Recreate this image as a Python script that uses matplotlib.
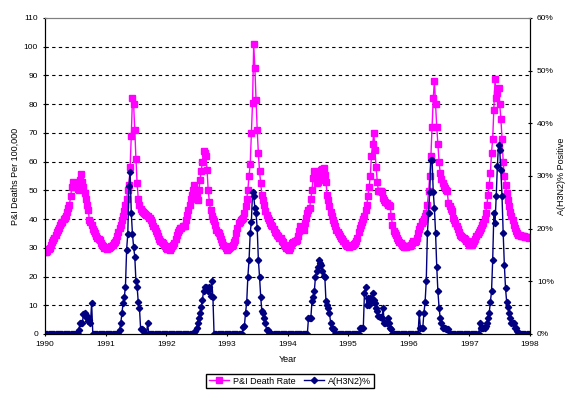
import matplotlib
matplotlib.use("Agg")
import matplotlib.pyplot as plt
import numpy as np

plt.rcParams['font.family'] = ['Liberation Sans', 'DejaVu Sans']

# weekly P&I deaths per 100,000, one list per year (52 weeks)
pi_1990 = [28.7, 28.5, 29, 29.5, 30, 31, 32, 32.8, 33.5, 34.5, 35.5, 36.3, 37, 38, 38.5, 39, 40, 40.5, 41, 42.5,
           44, 45, 48, 51, 53, 52, 51, 52, 50.5, 50, 53.5, 55.7, 53, 51, 49, 47, 45, 43.3, 39.8, 39,
           38, 36.5, 35.7, 35, 34, 33.5, 33, 32.8, 31.5, 31, 30.5, 30]
pi_1991 = [30, 29.5, 30, 29.8, 30.2, 30.5, 31, 31.5, 32, 32.8, 34, 35.5, 37, 38, 39.5, 41, 42.7, 45, 47, 50,
           52, 58, 69, 82, 80, 71, 61, 52.5, 47, 45, 43.5, 42.7, 42.5, 42, 41.8, 41.5, 41, 40.5, 40.2, 39.8,
           38.5, 37.5, 36.9, 36, 35, 34, 33, 32.5, 32, 31.5, 31, 30.5]
pi_1992 = [30, 29.5, 29.5, 29.3, 30, 30.5, 31, 31.7, 33, 34.5, 35.5, 36.3, 36.8, 37, 37.5, 37.5, 37.5, 39.5, 41.5, 43.3,
           45, 47, 48.5, 50.2, 52, 50, 48, 46.8, 50, 53.7, 56.6, 60, 63.6, 63, 61.9, 57, 50, 46, 43, 41,
           40, 39.2, 38, 36.3, 35.5, 35, 34, 33, 32, 31.1, 30.5, 29.8]
pi_1993 = [29.3, 29.5, 30, 30.2, 30.5, 31, 32, 32.8, 35, 37, 38.6, 39, 39.5, 40, 40.4, 42, 44.5, 47, 50.2, 55,
           59, 70, 80.4, 100.8, 92.6, 81.6, 71.1, 63, 56.6, 52.6, 48.5, 46.5, 45, 42.7, 41.5, 40.5, 39.8, 38.5, 38, 37.5,
           36.5, 35.5, 35, 34.5, 34, 33.5, 33.4, 32.5, 32, 31, 30.5, 30]
pi_1994 = [29.5, 29.3, 30, 31, 31.7, 32, 32.3, 32.5, 32.8, 34, 36, 37.5, 37, 36.5, 36.3, 38.5, 40.5, 42.1, 43, 43.9,
           47, 50.2, 54.3, 56.6, 55, 52.6, 53, 53.7, 55.5, 57.2, 57.5, 57.8, 55.5, 53, 48.5, 46.8, 44.4, 42.5, 40.9, 39.5,
           38.6, 37.5, 36.3, 35.5, 34.8, 34, 33.5, 33, 32.2, 31.5, 31, 30.5]
pi_1995 = [30.5, 30.3, 30.5, 30.5, 30.8, 31.2, 31.7, 32.5, 33.5, 35.5, 37, 38, 39, 40, 41, 43, 45, 48, 51, 55,
           62, 66, 70, 64, 58, 53, 49.7, 49.7, 49.7, 49.5, 47.3, 46.8, 46, 45.6, 45, 44.8, 44.4, 41, 38, 36,
           35.2, 34.5, 33.5, 32.8, 32, 31.5, 31, 30.5, 30.3, 30.5, 30.3, 30.5]
pi_1996 = [30.5, 30.5, 31, 31.5, 32.2, 32, 32.2, 33.5, 35, 36.5, 37.5, 38.5, 39.2, 40, 41, 42, 45, 49.7, 55, 62,
           72, 82, 88, 80, 72, 66, 60, 56, 54, 52.6, 51.5, 50.8, 50, 49.7, 45.6, 44.5, 43.5, 42.7, 40.4, 39.5,
           38.5, 37.5, 36.5, 35.5, 34.6, 34, 33.6, 33.4, 33, 32.5, 32.2, 31.8]
pi_1997 = [31.1, 31, 31.2, 31.7, 32.5, 33.2, 34, 34.8, 35.5, 36.3, 37, 38, 38.6, 40, 42, 45, 48.5, 52, 56, 63,
           68, 78, 88.6, 82, 84, 85.7, 80, 75, 68, 60, 55, 52, 49, 46.5, 44.5, 42.5, 41, 39.5, 38, 37,
           36, 35.3, 34.6, 34.4, 34.2, 34, 34, 34, 33.8, 33.8, 33.6, 33.5]

# weekly A(H3N2) percent positive
h3_1990 = [0] * 29 + [0.8, 2, 2.1, 2, 3.8, 4, 3.3, 3.5, 2.4, 2.7, 2, 5.9] + [0] * 11
h3_1991 = [0] * 12 + [0.8, 2.1, 4, 5.9, 7, 9, 16, 19, 28, 30.8, 23, 19, 16.5, 14.7, 10, 9, 6, 5, 1, 1,
                      0.8, 0, 0, 0, 2] + [0] * 15
h3_1992 = [0] * 25 + [0.5, 1.1, 2.1, 3, 4, 5.2, 6.5, 8.1, 9, 9, 8.8, 8.1, 9, 7.2, 10, 7.1] + [0] * 11
h3_1993 = [0] * 14 + [1.4, 1.5, 4, 6, 10.9, 14, 19.1, 21.3, 27, 26.1, 24, 22.9, 20.1, 14.1, 10.9, 7.1, 4.3, 4,
                      3, 2.1, 0.8, 0.8] + [0] * 16
h3_1994 = [0] * 18 + [3, 3, 3, 6.2, 7, 8.1, 10.9, 12, 12.8, 14.1, 13.5, 13, 11.9, 11, 10.9, 6.2, 5.5, 4.9,
                      4, 2.1, 1.1, 1, 0.9] + [0] * 11
h3_1995 = [0] * 10 + [1.1, 1.1, 1.1, 1.1, 7.8, 9, 5.5, 6.8, 5.5, 6.8, 6.2, 7.8, 6.5, 5.9, 5, 4.3, 3.5, 3.3,
                      3.3, 3, 4.9, 2.1, 2, 2.1, 3, 2, 1.1, 0.9] + [0] * 14
h3_1996 = [0] * 9 + [4, 1.1, 1.1, 1.1, 4, 6, 10, 19.1, 23, 27, 33.1, 33.1, 27, 23.9, 19.1, 12.8, 8.1, 5, 3,
                     2.1, 1.1, 1.1, 1.1, 1, 1, 0.9] + [0] * 17
h3_1997 = [0] * 9 + [2.1, 1.1, 1.1, 1.1, 1.1, 1.5, 2.1, 3, 4, 6, 8.1, 14.1, 22.9, 21, 26.1, 31.8, 35.9, 35,
                     31.2, 26.1, 19.1, 13.1, 8.7, 6, 5.2, 4, 3, 2.1, 2.1, 2.1, 1.1, 1.1, 0.5] + [0] * 10

years = [1990, 1991, 1992, 1993, 1994, 1995, 1996, 1997, 1998]

pi_rate = pi_1990 + pi_1991 + pi_1992 + pi_1993 + pi_1994 + pi_1995 + pi_1996 + pi_1997
h3n2 = h3_1990 + h3_1991 + h3_1992 + h3_1993 + h3_1994 + h3_1995 + h3_1996 + h3_1997
weeks = 1990 + np.arange(len(pi_rate)) / 52.0
weeks_h3 = 1990 + np.arange(len(h3n2)) / 52.0

fig = plt.figure(figsize=(5.8, 3.99), dpi=100)
ax = fig.add_axes([0.0776, 0.163, 0.8362, 0.792])
ax2 = ax.twinx()

l1, = ax.plot(weeks, pi_rate, color='#FF00FF', lw=1, marker='s', ms=4.3, mec='#FF00FF',
              label='P&I Death Rate')
l2, = ax2.plot(weeks_h3, h3n2, color='#000080', lw=1, marker='D', ms=3.2, mec='#000080',
               label='A(H3N2)%')

ax.set_xlim(1990, 1998)
ax.set_ylim(0, 110)
ax2.set_ylim(0, 60)
ax.set_yticks(range(0, 111, 10))
ax2.set_yticks(range(0, 61, 10))
ax2.set_yticklabels([f'{v}%' for v in range(0, 61, 10)])
ax.set_xticks(years)

for y in range(10, 101, 10):
    ax.axhline(y, color='black', lw=0.8, ls=(0, (3, 3)), zorder=0)

ax.spines['top'].set_color('#808080')
ax2.spines['top'].set_color('#808080')
ax.tick_params(labelsize=6, length=3, width=0.8, direction='inout')
ax2.tick_params(labelsize=6, length=3, width=0.8, direction='inout')

ax.set_xlabel('Year', fontsize=6.5, labelpad=5)
ax.set_ylabel('P&I Deaths Per 100,000', fontsize=6.5, labelpad=3)
ax2.set_ylabel('A(H3N2)% Positive', fontsize=6.5, labelpad=2)

fig.legend(handles=[l1, l2], loc='center', bbox_to_anchor=(0.5, 0.045), ncol=2, fontsize=6.5,
           frameon=True, fancybox=False, edgecolor='black', framealpha=1, handlelength=2.2,
           borderpad=0.3, columnspacing=1.0, handletextpad=0.4)

fig.savefig('out.png', dpi=100)
